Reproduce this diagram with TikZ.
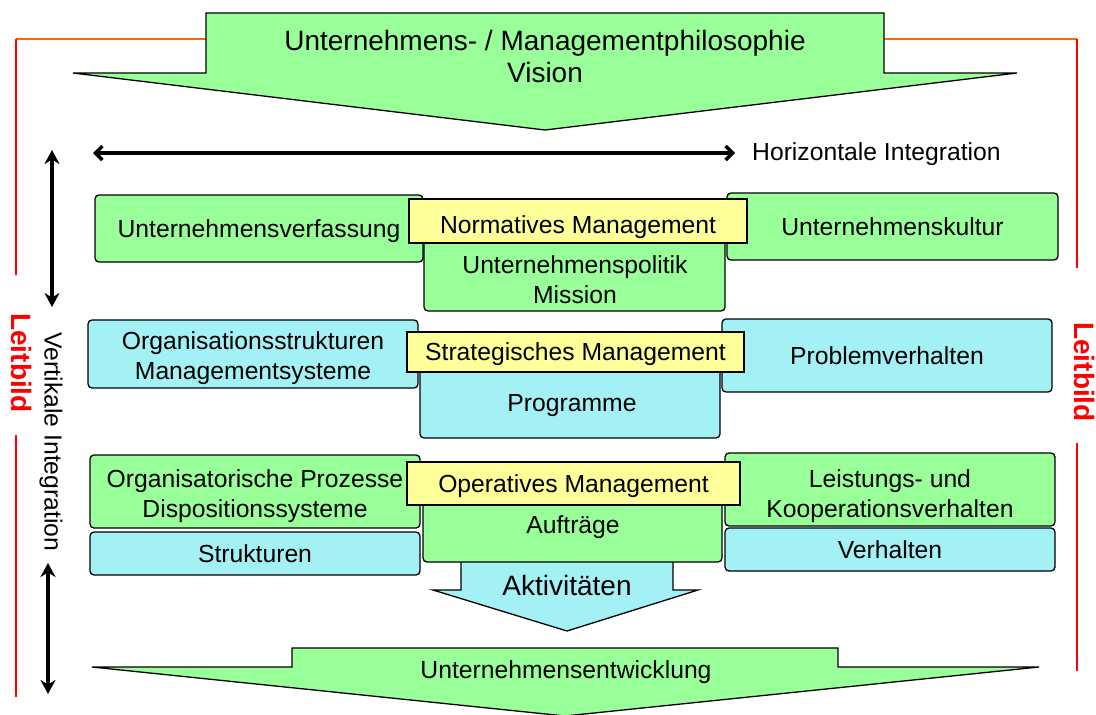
\documentclass[tikz,border=0pt]{standalone}
\usepackage{fontspec}
\setmainfont{Liberation Sans}
\usetikzlibrary{arrows.meta}
\definecolor{lgreen}{HTML}{99FF99}
\definecolor{lcyan}{HTML}{A3F0F5}
\definecolor{lyellow}{HTML}{FFFF99}
\definecolor{lorange}{HTML}{FF6600}
\definecolor{lred}{HTML}{FF0000}
\begin{document}
\begin{tikzpicture}[x=1pt,y=-1pt,
  base/.style={font=\fontsize{24.7}{30}\selectfont},
  big/.style={font=\fontsize{28}{32}\selectfont},
  box/.style={base, draw=black, line width=1.3pt, rounded corners=4pt, inner sep=0pt, align=center, text depth=0pt},
  gbox/.style={box, fill=lgreen},
  cbox/.style={box, fill=lcyan},
  ybox/.style={base, draw=black, line width=1.3pt, fill=lyellow, inner sep=0pt, align=center, text depth=0pt},
  txt/.style={base, inner sep=0pt, align=center},
  bigarrow/.style={draw=black, line width=1.3pt, line join=miter},
  leit/.style={text=lred, inner sep=0pt, rotate=-90, font=\fontsize{28}{32}\selectfont\bfseries},
  frameline/.style={line width=1.5pt},
  integ/.style={line width=4pt, {Stealth[length=14pt,width=15pt]}-{Stealth[length=14pt,width=15pt]}},
  hinteg/.style={line width=3.5pt, {Straight Barb[length=7pt,width=14pt]}-{Straight Barb[length=7pt,width=14pt]}}
]
\useasboundingbox (0,0) rectangle (1096,715);

% frame lines (Leitbild)
\draw[frameline, lorange] (16,39) -- (206,39);
\draw[frameline, lorange] (884,39) -- (1077,39);
\draw[frameline, lred] (16,39) -- (16,275);
\draw[frameline, lred] (16,435) -- (16,697);
\draw[frameline, lred] (1077,39) -- (1077,268);
\draw[frameline, lred] (1077,443) -- (1077,671);
\node[leit] (leitL) at (22,363) {Leitbild};
\node[leit] (leitR) at (1084,372) {Leitbild};

% top arrow
\draw[bigarrow, fill=lgreen] (206,13) -- (884,13) -- (884,73) -- (1017,73) -- (545,130) -- (73,73) -- (206,73) -- cycle;
\node[big, inner sep=0pt, align=center] (philo) at (545,56) {Unternehmens- / Managementphilosophie\\Vision};

% integration arrows
\coordinate (hL) at (93,153);
\coordinate (hR) at (735,153);
\draw[hinteg] (hL) -- (hR);
\node[txt, anchor=west] (hint) at (752,154) {Horizontale Integration};
\coordinate (v1t) at (52,150);
\coordinate (v1b) at (52,307);
\draw[integ] (v1t) -- (v1b);
\coordinate (v2t) at (48,563);
\coordinate (v2b) at (48,694);
\draw[integ] (v2t) -- (v2b);
\node[txt, rotate=-90] (vint) at (51,442) {Vertikale Integration};

% row 1: normative
\node[gbox, minimum width=328pt, minimum height=67pt] (verf) at (259,228.5) {Unternehmensverfassung};
\node[gbox, minimum width=331pt, minimum height=67pt] (kultur) at (892.5,226.5) {Unternehmenskultur};
\node[gbox, minimum width=301pt, minimum height=91pt] (politik) at (574.5,265.5) {};
\node[txt] (politikT) at (575,280) {Unternehmenspolitik\\Mission};
\node[ybox, minimum width=338pt, minimum height=44pt, text height=24pt] (norm) at (578,221) {Normatives Management};

% row 2: strategic
\node[cbox, minimum width=330pt, minimum height=68pt, text height=50pt] (orgstr) at (253,354) {Organisationsstrukturen\\Managementsysteme};
\node[cbox, minimum width=330pt, minimum height=73pt] (problem) at (887,355.5) {Problemverhalten};
\node[cbox, minimum width=300pt, minimum height=88pt] (progr) at (570,394) {};
\node[txt] (progrT) at (572,406) {Programme};
\node[ybox, minimum width=337pt, minimum height=40pt] (strat) at (575.5,352) {Strategisches Management};

% row 3: operative
\node[gbox, minimum width=330pt, minimum height=73pt, text height=52pt] (orgproz) at (255,491.5) {Organisatorische Prozesse\\Dispositionssysteme};
\node[cbox, minimum width=330pt, minimum height=43pt] (struk) at (255,553.5) {Strukturen};
\node[gbox, minimum width=330pt, minimum height=73pt, text height=55pt] (leist) at (890,489.5) {Leistungs- und\\Kooperationsverhalten};
\node[cbox, minimum width=330pt, minimum height=43pt] (verh) at (890,549.5) {Verhalten};

% Aktivitaeten arrow
\draw[bigarrow, fill=lcyan] (461,556) -- (673,556) -- (673,590) -- (698,590) -- (567,631) -- (433,590) -- (461,590) -- cycle;
\node[big, inner sep=0pt] (akt) at (567,585) {Aktivitäten};

\node[gbox, minimum width=299pt, minimum height=82pt] (auftr) at (572.5,521) {};
\node[txt] (auftrT) at (573,527) {Aufträge};
\node[ybox, minimum width=333pt, minimum height=43pt] (oper) at (573.5,483.5) {Operatives Management};

% bottom arrow
\draw[bigarrow, fill=lgreen] (292,648) -- (838,648) -- (838,667) -- (1039,667) -- (565,716) -- (92,667) -- (292,667) -- cycle;
\node[txt] (entw) at (566,672) {Unternehmensentwicklung};
\end{tikzpicture}
\end{document}
